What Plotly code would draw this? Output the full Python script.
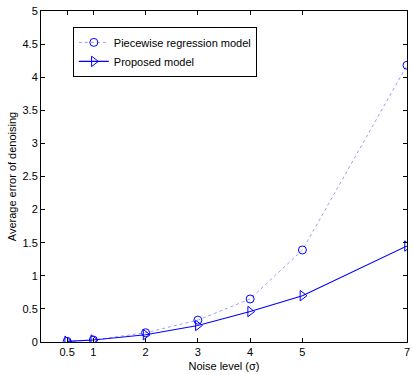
import plotly.graph_objects as go

noise = [0.5, 1, 2, 3, 4, 5, 7]
piecewise = [0.01, 0.03, 0.14, 0.33, 0.65, 1.39, 4.18]
proposed = [0.01, 0.03, 0.11, 0.25, 0.46, 0.70, 1.45]
xticks = [0.5, 1, 2, 3, 4, 5, 7]
xticklabels = ["0.5", "1", "2", "3", "4", "5", "7"]
yticks = [0, 0.5, 1, 1.5, 2, 2.5, 3, 3.5, 4, 4.5, 5]
yticklabels = ["0", "0.5", "1", "1.5", "2", "2.5", "3", "3.5", "4", "4.5", "5"]

FONT = "Liberation Sans, Arial"

fig = go.Figure()
fig.add_trace(go.Scatter(
    x=noise, y=piecewise, mode="lines+markers", name="Piecewise regression model",
    line=dict(color="rgba(90,90,255,0.6)", width=1, dash="dot"),
    marker=dict(symbol="circle-open", size=8, color="#0000ff", line=dict(width=1)),
))
fig.add_trace(go.Scatter(
    x=noise, y=proposed, mode="lines+markers", name="Proposed model",
    line=dict(color="#0000ff", width=1.1),
    marker=dict(symbol="triangle-right-open", size=9, color="#0000ff", line=dict(width=1)),
))

axis_common = dict(
    showgrid=False, zeroline=False, showline=True, linecolor="black", linewidth=1,
    mirror="ticks", ticks="inside", ticklen=4, tickcolor="black",
    tickfont=dict(family=FONT, size=11, color="black"),
)
fig.update_xaxes(range=[0, 7], tickmode="array", tickvals=xticks, ticktext=xticklabels,
                 ticklabeloverflow="allow",
                 title=dict(text="Noise level (σ)", font=dict(family=FONT, size=11, color="black"), standoff=5),
                 **axis_common)
fig.update_yaxes(range=[0, 5], tickmode="array", tickvals=yticks, ticktext=yticklabels,
                 title=dict(text="Average error of denoising", font=dict(family=FONT, size=11, color="black"), standoff=3),
                 **axis_common)
fig.update_layout(
    width=412, height=375,
    margin=dict(l=41, r=2, t=11, b=33),
    paper_bgcolor="white", plot_bgcolor="white",
    showlegend=True,
    legend=dict(x=0.087, y=0.952, xanchor="left", yanchor="top",
                bordercolor="black", borderwidth=1, bgcolor="white",
                font=dict(family=FONT, size=11, color="black"),
                tracegroupgap=0, itemwidth=30),
)
fig.write_html("out.html")
